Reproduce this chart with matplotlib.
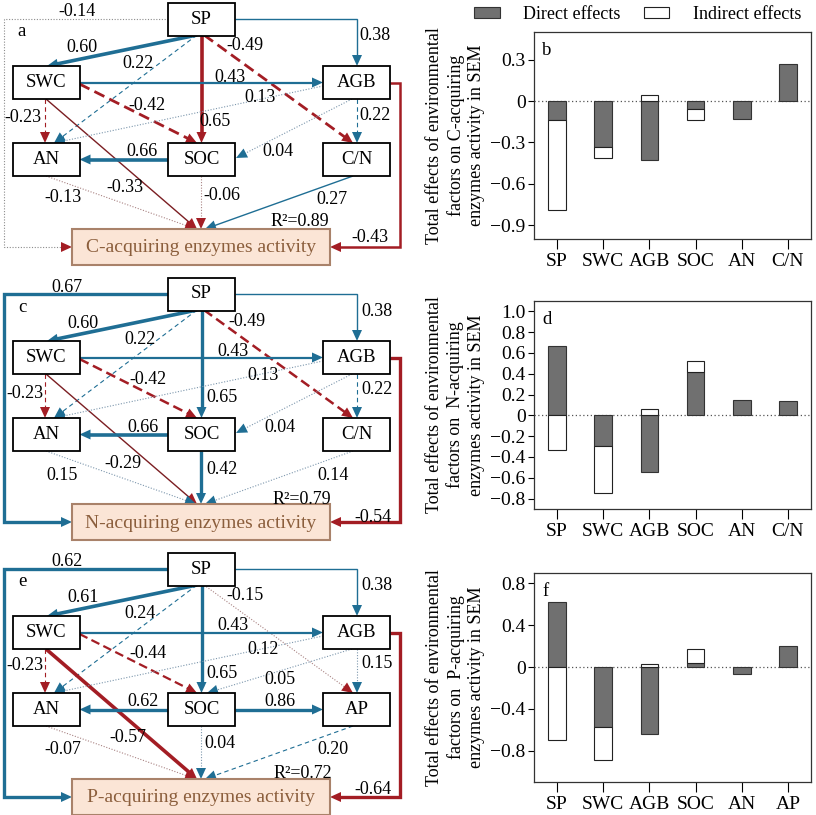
import matplotlib
matplotlib.use('Agg')
import matplotlib.pyplot as plt
from matplotlib.patches import Rectangle, Polygon, Patch
import numpy as np

plt.rcParams['font.family'] = ['Liberation Serif', 'DejaVu Serif']
plt.rcParams['axes.unicode_minus'] = True

# ------------------------- bar chart data -------------------------
factors_C = ['SP', 'SWC', 'AGB', 'SOC', 'AN', 'C/N']
direct_C = [-0.14, -0.33, -0.43, -0.06, -0.13, 0.27]
indirect_C = [-0.65, -0.08, 0.04, -0.08, 0.0, 0.0]

factors_N = ['SP', 'SWC', 'AGB', 'SOC', 'AN', 'C/N']
direct_N = [0.67, -0.29, -0.54, 0.42, 0.15, 0.14]
indirect_N = [-0.33, -0.46, 0.06, 0.10, 0.0, 0.0]

factors_P = ['SP', 'SWC', 'AGB', 'SOC', 'AN', 'AP']
direct_P = [0.62, -0.57, -0.64, 0.04, -0.07, 0.20]
indirect_P = [-0.70, -0.32, 0.03, 0.13, 0.0, 0.0]

# ------------------------- SEM path data -------------------------
edges_C = [('SP', 'SWC'), ('SP', 'AN'), ('SP', 'SOC'), ('SP', 'C/N'), ('SP', 'AGB'), ('SP', 'ENZ'),
           ('SWC', 'AGB'), ('SWC', 'SOC'), ('SWC', 'AN'), ('SWC', 'ENZ'),
           ('AGB', 'AN'), ('AGB', 'C/N'), ('AGB', 'SOC'), ('AGB', 'ENZ'),
           ('SOC', 'AN'), ('SOC', 'ENZ'), ('AN', 'ENZ'), ('C/N', 'ENZ')]
coef_C = [0.60, 0.22, 0.65, -0.49, 0.38, -0.14, 0.43, -0.42, -0.23, -0.33,
          0.13, 0.22, 0.04, -0.43, 0.66, -0.06, -0.13, 0.27]
r2_C = 0.89

edges_N = [('SP', 'SWC'), ('SP', 'AN'), ('SP', 'SOC'), ('SP', 'C/N'), ('SP', 'AGB'), ('SP', 'ENZ'),
           ('SWC', 'AGB'), ('SWC', 'SOC'), ('SWC', 'AN'), ('SWC', 'ENZ'),
           ('AGB', 'AN'), ('AGB', 'C/N'), ('AGB', 'SOC'), ('AGB', 'ENZ'),
           ('SOC', 'AN'), ('SOC', 'ENZ'), ('AN', 'ENZ'), ('C/N', 'ENZ')]
coef_N = [0.60, 0.22, 0.65, -0.49, 0.38, 0.67, 0.43, -0.42, -0.23, -0.29,
          0.13, 0.22, 0.04, -0.54, 0.66, 0.42, 0.15, 0.14]
r2_N = 0.79

edges_P = [('SP', 'SWC'), ('SP', 'AN'), ('SP', 'SOC'), ('SP', 'AP'), ('SP', 'AGB'), ('SP', 'ENZ'),
           ('SWC', 'AGB'), ('SWC', 'SOC'), ('SWC', 'AN'), ('SWC', 'ENZ'),
           ('AGB', 'AN'), ('AGB', 'AP'), ('AGB', 'SOC'), ('AGB', 'ENZ'),
           ('SOC', 'AN'), ('SOC', 'AP'), ('SOC', 'ENZ'), ('AN', 'ENZ'), ('AP', 'ENZ')]
coef_P = [0.61, 0.24, 0.65, -0.15, 0.38, 0.62, 0.43, -0.44, -0.23, -0.57,
          0.12, 0.15, 0.05, -0.64, 0.62, 0.86, 0.04, -0.07, 0.20]
r2_P = 0.72

enz_names = ['C-acquiring enzymes activity', 'N-acquiring enzymes activity', 'P-acquiring enzymes activity']

# ------------------------- styles & layout -------------------------
BLUE = '#1f6e94'
RED = '#a31d24'
DRED = '#7b1e22'
GB = '#7d97ad'
GR = '#a98383'
GREY = '#8c8c8c'
DASH_THICK = (0, (4, 2))
DASH_THIN = (0, (4, 3))
DOT = (0, (1, 1.5))

# (line colour, head colour, linestyle, linewidth)
style_C = [(BLUE, BLUE, '-', 2.6), (BLUE, BLUE, DASH_THIN, 0.8), (RED, RED, '-', 2.6),
           (RED, RED, DASH_THICK, 2.0), (BLUE, BLUE, '-', 1.0), (GREY, RED, DOT, 0.8),
           (BLUE, BLUE, '-', 1.6), (RED, RED, DASH_THICK, 2.0), (RED, RED, DASH_THIN, 0.8),
           (DRED, RED, '-', 1.0), (GB, BLUE, DOT, 0.8), (BLUE, BLUE, DASH_THIN, 0.8),
           (GB, BLUE, DOT, 0.8), (RED, RED, '-', 1.8), (BLUE, BLUE, '-', 2.6),
           (GR, RED, DOT, 0.8), (GR, RED, DOT, 0.8), (BLUE, BLUE, '-', 1.0)]
style_N = [(BLUE, BLUE, '-', 2.6), (BLUE, BLUE, DASH_THIN, 0.8), (BLUE, BLUE, '-', 2.4),
           (RED, RED, DASH_THICK, 1.8), (BLUE, BLUE, '-', 1.0), (BLUE, BLUE, '-', 2.4),
           (BLUE, BLUE, '-', 1.6), (RED, RED, DASH_THICK, 1.8), (RED, RED, DASH_THIN, 0.8),
           (DRED, RED, '-', 1.0), (GB, BLUE, DOT, 0.8), (BLUE, BLUE, DASH_THIN, 0.8),
           (GB, BLUE, DOT, 0.8), (RED, RED, '-', 2.4), (BLUE, BLUE, '-', 2.6),
           (BLUE, BLUE, '-', 2.4), (GB, BLUE, DOT, 0.8), (GB, BLUE, DOT, 0.8)]
style_P = [(BLUE, BLUE, '-', 2.6), (BLUE, BLUE, DASH_THIN, 0.8), (BLUE, BLUE, '-', 2.4),
           (GR, RED, DOT, 0.8), (BLUE, BLUE, '-', 1.0), (BLUE, BLUE, '-', 2.4),
           (BLUE, BLUE, '-', 1.6), (RED, RED, DASH_THICK, 1.6), (RED, RED, DASH_THIN, 0.8),
           (RED, RED, '-', 2.6), (GB, BLUE, DOT, 0.8), (GB, BLUE, DOT, 0.8),
           (GB, BLUE, DOT, 0.8), (RED, RED, '-', 2.4), (BLUE, BLUE, '-', 2.4),
           (BLUE, BLUE, '-', 2.4), (GB, BLUE, DOT, 0.8), (GR, RED, DOT, 0.8), (BLUE, BLUE, DASH_THIN, 0.8)]

# label positions (panel-relative pixel coordinates)
lab_C = [(82, 48), (138, 63), (215, 122), (245, 45), (375, 36), (77, 12), (230, 78), (147, 105),
         (23, 117), (125, 188), (260, 98), (375, 115), (278, 152), (370, 238), (142, 152),
         (222, 195), (63, 198), (332, 200)]
lab_N = [(83, 48), (140, 65), (222, 123), (247, 47), (377, 37), (67, 12), (233, 77), (148, 105),
         (25, 118), (123, 188), (263, 100), (377, 115), (280, 152), (373, 242), (143, 152),
         (222, 195), (62, 200), (333, 200)]
lab_P = [(83, 47), (140, 64), (222, 123), (245, 45), (377, 35), (67, 11), (233, 76), (148, 103),
         (25, 116), (128, 188), (263, 99), (377, 113), (280, 129), (373, 239), (143, 152),
         (280, 152), (220, 193), (63, 199), (333, 199)]
r2_pos = [(300, 222), (302, 225), (303, 223)]

NODE_POS = {'SP': (201.5, 19), 'SWC': (46, 82.5), 'AGB': (356.5, 82.5), 'AN': (46, 159.5),
            'SOC': (201.5, 159.5), 'C/N': (356.5, 159.5), 'AP': (356.5, 159.5)}
NODE_W, NODE_H = 67, 33
ENZ_BOX = (72, 229, 258, 36)

ROUTES = {('SP', 'SWC'): [(197, 35), (47, 66)],
          ('SP', 'AN'): [(197, 35), (54, 143)],
          ('SP', 'SOC'): [(201.5, 35), (201.5, 143)],
          ('SP', 'R3'): [(204, 35), (353, 143)],
          ('SP', 'AGB'): [(235, 19), (357, 19), (357, 66)],
          ('SP', 'ENZ'): [(168, 19), (3.5, 19), (3.5, 247), (72, 247)],
          ('SWC', 'AGB'): [(79.5, 82.5), (323, 82.5)],
          ('SWC', 'SOC'): [(79.5, 84), (197, 143)],
          ('SWC', 'AN'): [(45, 99), (45, 143)],
          ('SWC', 'ENZ'): [(46, 99), (197, 229)],
          ('AGB', 'AN'): [(323, 86), (54, 143)],
          ('AGB', 'R3'): [(357, 99), (357, 143)],
          ('AGB', 'SOC'): [(352, 99), (236, 158)],
          ('AGB', 'ENZ'): [(390, 82.5), (400, 82.5), (400, 247), (330, 247)],
          ('SOC', 'AN'): [(168, 159.5), (79.5, 159.5)],
          ('SOC', 'R3'): [(235, 159.5), (323, 159.5)],
          ('SOC', 'ENZ'): [(201, 176), (201, 229)],
          ('AN', 'ENZ'): [(46, 176), (196, 229)],
          ('R3', 'ENZ'): [(353, 176), (205, 229)]}
ROUTE_OVERRIDE_P = {('AGB', 'SOC'): [(352, 99), (207, 143)]}

PANEL_DY = [0, 275, 550]

fig = plt.figure(figsize=(8.16, 8.15), dpi=100)
ax0 = fig.add_axes([0, 0, 1, 1])
ax0.set_xlim(0, 816)
ax0.set_ylim(815, 0)
ax0.axis('off')


def key(n):
    return 'R3' if n in ('C/N', 'AP') else n


def draw_path(ax, pts, dy, lc, hc, ls, lw):
    pts = np.array(pts, float)
    pts[:, 1] += dy
    tip = pts[-1]
    d = tip - pts[-2]
    d = d / np.hypot(*d)
    L, W = 11.0, 5.0
    base = tip - d * L
    line = pts.copy()
    line[-1] = tip - d * L * 0.6
    ax.plot(line[:, 0], line[:, 1], color=lc, ls=ls, lw=lw,
            solid_capstyle='butt', dash_capstyle='butt', solid_joinstyle='miter', zorder=2)
    n = np.array([-d[1], d[0]])
    ax.add_patch(Polygon([tip, base + n * W, base - n * W], closed=True,
                         fc=hc, ec='none', zorder=3))


panels = [(edges_C, coef_C, style_C, lab_C, r2_C, {}, 'a'),
          (edges_N, coef_N, style_N, lab_N, r2_N, {}, 'c'),
          (edges_P, coef_P, style_P, lab_P, r2_P, ROUTE_OVERRIDE_P, 'e')]

for i, (edges, coefs, styles, labs, r2, override, letter) in enumerate(panels):
    dy = PANEL_DY[i]
    for (s, t), c, st, lp in zip(edges, coefs, styles, labs):
        k = (key(s), key(t))
        pts = override.get((s, t), ROUTES[k])
        draw_path(ax0, pts, dy, *st)
        ax0.text(lp[0], lp[1] + dy, f'{c:.2f}', fontsize=13, ha='center', va='center', zorder=5)
    nodes = set([e[0] for e in edges] + [e[1] for e in edges]) - {'ENZ'}
    for n in nodes:
        x, y = NODE_POS[n]
        ax0.add_patch(Rectangle((x - NODE_W / 2, y + dy - NODE_H / 2), NODE_W, NODE_H,
                                fc='white', ec='black', lw=1.3, zorder=4))
        ax0.text(x, y + dy, n, fontsize=13.5, ha='center', va='center', zorder=5)
    ex, ey, ew, eh = ENZ_BOX
    ax0.add_patch(Rectangle((ex, ey + dy), ew, eh, fc='#fbe5d6', ec='#a9826a', lw=1.5, zorder=4))
    ax0.text(ex + ew / 2, ey + dy + eh / 2 + 1, enz_names[i], fontsize=14, color='#8b5e3c',
             ha='center', va='center', zorder=5)
    ax0.text(r2_pos[i][0], r2_pos[i][1] + dy, f'R²={r2:.2f}', fontsize=13,
             ha='center', va='center', zorder=5)
    ax0.text(22, 32 + dy, letter, fontsize=13.5, ha='center', va='center', zorder=5)

# ------------------------- bar charts -------------------------
bar_sets = [(factors_C, direct_C, indirect_C, (-1.0, 0.5), [-0.9, -0.6, -0.3, 0, 0.3], 'b',
             'Total effects of environmental\nfactors on C-acquiring\nenzymes activity in SEM', 32, 239),
            (factors_N, direct_N, indirect_N, (-0.9, 1.1), [-0.8, -0.6, -0.4, -0.2, 0, 0.2, 0.4, 0.6, 0.8, 1.0], 'd',
             'Total effects of environmental\nfactors on  N-acquiring\nenzymes activity in SEM', 301, 509),
            (factors_P, direct_P, indirect_P, (-1.1, 0.9), [-0.8, -0.4, 0, 0.4, 0.8], 'f',
             'Total effects of environmental\nfactors on  P-acquiring\nenzymes activity in SEM', 573, 782)]

W, H = 816, 815
for cats, direct, indirect, ylim, yt, letter, ylabel, top, bot in bar_sets:
    ax = fig.add_axes([534 / W, 1 - bot / H, 277 / W, (bot - top) / H])
    x = np.arange(len(cats))
    d = np.array(direct)
    ind = np.array(indirect)
    bottoms = np.where(np.sign(ind) == np.sign(d), d, 0.0)
    ax.bar(x, d, width=0.38, color='#707070', edgecolor='#333333', lw=0.8, zorder=3)
    mask = ind != 0
    ax.bar(x[mask], ind[mask], bottom=bottoms[mask], width=0.38, color='white',
           edgecolor='#222222', lw=0.8, zorder=3)
    ax.axhline(0, color='#555555', ls=(0, (1, 2)), lw=0.9, zorder=2)
    ax.set_xlim(-0.5, 5.5)
    ax.set_ylim(*ylim)
    ax.set_xticks(x)
    ax.set_xticklabels(cats, fontsize=14)
    ax.set_yticks(yt)
    ax.set_yticklabels(['0' if v == 0 else f'{v:.1f}'.replace('-', '\u2212') for v in yt], fontsize=14)
    ax.tick_params(axis='x', direction='out', length=7, width=0.8, pad=3)
    ax.tick_params(axis='y', direction='out', length=4, width=0.8, pad=2)
    for sp in ax.spines.values():
        sp.set_linewidth(0.9)
        sp.set_color('#333333')
    ax.text(0.03, 0.95, letter, transform=ax.transAxes, fontsize=13.5, va='top', ha='left')
    ax.set_ylabel(ylabel, fontsize=13, linespacing=1.25, labelpad=4)

handles = [Patch(fc='#707070', ec='#333333', lw=0.8, label='Direct effects'),
           Patch(fc='white', ec='#222222', lw=0.8, label='Indirect effects')]
fig.legend(handles=handles, loc='upper right', bbox_to_anchor=(812 / W, 1.006), ncol=2,
           frameon=False, fontsize=13, handlelength=1.4, handleheight=0.6,
           handletextpad=1.3, columnspacing=1.3, borderpad=0.1)

fig.savefig('out.png', dpi=100)
